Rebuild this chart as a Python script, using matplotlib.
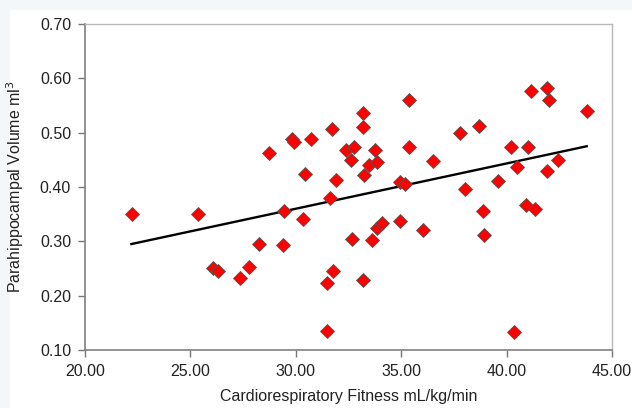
import matplotlib
matplotlib.use("Agg")
import matplotlib.pyplot as plt
from matplotlib.ticker import FormatStrFormatter
from matplotlib.patches import Rectangle

fitness = [22.22, 25.35, 26.08, 26.33, 27.34, 27.76, 28.24, 28.75, 29.37, 29.42,
           29.82, 29.92, 30.36, 30.42, 30.74, 31.47, 31.49, 31.60, 31.72, 31.77,
           31.93, 32.37, 32.61, 32.65, 32.77, 33.17, 33.21, 33.19, 33.23, 33.46,
           33.61, 33.76, 33.86, 33.86, 34.11, 34.93, 34.93, 35.19, 35.35, 35.39,
           36.02, 36.49, 37.78, 38.04, 38.71, 38.86, 38.92, 39.61, 40.20, 40.36,
           40.51, 40.93, 41.01, 41.14, 41.35, 41.92, 41.94, 42.02, 42.46, 43.82]
volume = [0.350, 0.350, 0.251, 0.245, 0.232, 0.253, 0.296, 0.463, 0.294, 0.356,
          0.489, 0.483, 0.341, 0.424, 0.488, 0.224, 0.135, 0.380, 0.506, 0.245,
          0.413, 0.469, 0.449, 0.304, 0.474, 0.511, 0.537, 0.228, 0.423, 0.440,
          0.302, 0.469, 0.446, 0.325, 0.334, 0.337, 0.409, 0.405, 0.561, 0.474,
          0.320, 0.447, 0.500, 0.397, 0.512, 0.356, 0.312, 0.411, 0.474, 0.133,
          0.437, 0.367, 0.474, 0.576, 0.359, 0.429, 0.583, 0.561, 0.450, 0.539]
trend_x = [22.2, 43.8]
trend_y = [0.295, 0.475]

x_ticks = [20.0, 25.0, 30.0, 35.0, 40.0, 45.0]
y_ticks = [0.10, 0.20, 0.30, 0.40, 0.50, 0.60, 0.70]

plt.rcParams['font.family'] = ['Liberation Sans', 'DejaVu Sans']

fig = plt.figure(figsize=(6.32, 4.08), dpi=100, facecolor='#f3f7fa')
fig.patches.append(Rectangle((10/632, 0), 1, 1 - 10/408, transform=fig.transFigure,
                             facecolor='white', edgecolor='none', zorder=-10))
ax = fig.add_axes([85/632, 1 - 350/408, (612 - 85)/632, (350 - 24)/408])
ax.set_facecolor('white')

ax.plot(trend_x, trend_y, color='black', lw=1.7, zorder=2)
ax.plot(fitness, volume, linestyle='none', marker='D', markersize=7.4,
        markerfacecolor='#ff0000', markeredgecolor='#555555', markeredgewidth=0.6, zorder=3)

ax.set_xlim(20, 45)
ax.set_ylim(0.10, 0.70)
ax.set_xticks(x_ticks)
ax.set_yticks(y_ticks)
ax.xaxis.set_major_formatter(FormatStrFormatter('%.2f'))
ax.yaxis.set_major_formatter(FormatStrFormatter('%.2f'))
ax.tick_params(axis='both', labelsize=11.5, colors='#222222', length=5, width=1, color='#777777')
ax.tick_params(axis='y', pad=5)
ax.tick_params(axis='x', pad=5)

for s in ['left', 'bottom']:
    ax.spines[s].set_color('#808080')
    ax.spines[s].set_linewidth(1.2)
for s in ['top', 'right']:
    ax.spines[s].set_color('#b8b8b8')
    ax.spines[s].set_linewidth(1.0)

ax.set_xlabel('Cardiorespiratory Fitness mL/kg/min', fontsize=11.5, color='#222222', labelpad=7)
ax.set_ylabel('Parahippocampal Volume ml$^3$', fontsize=11.5, color='#222222', labelpad=10)

fig.savefig('out.png', dpi=100, facecolor=fig.get_facecolor())
